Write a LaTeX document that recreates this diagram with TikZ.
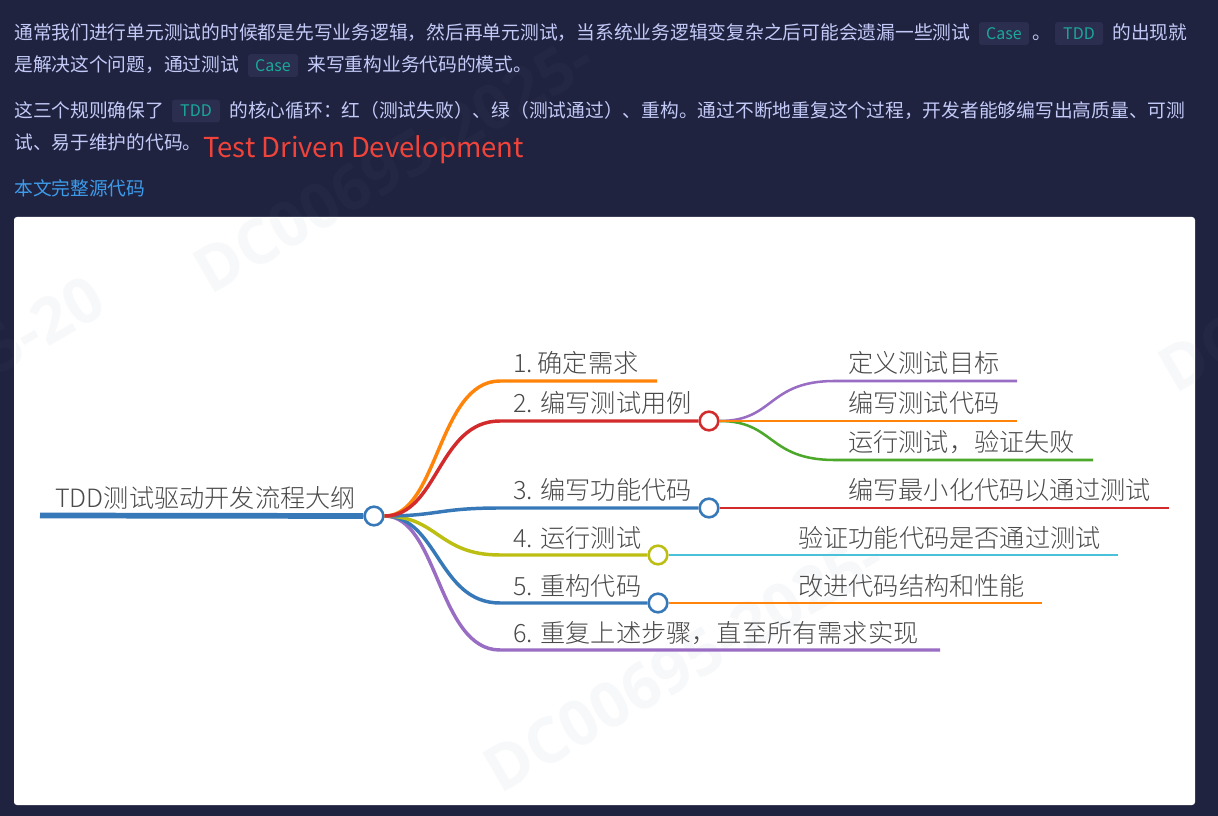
\documentclass[tikz,border=0pt]{standalone}
\usepackage{fontspec}
\setmainfont{Noto Sans CJK SC}
\newfontfamily\wmfont{Open Sans}
\newfontfamily\mapfont{Noto Sans CJK SC Light}
\definecolor{pagebg}{HTML}{1F2340}
\definecolor{bodytxt}{HTML}{C3CAF7}
\definecolor{chipbg}{HTML}{2B2E4E}
\definecolor{chiptxt}{HTML}{1AA79C}
\definecolor{linkc}{HTML}{3D9BEA}
\definecolor{redtxt}{HTML}{F0433A}
\definecolor{wmdark}{HTML}{232744}
\definecolor{wmlight}{HTML}{F7F8FA}
\definecolor{maptxt}{HTML}{4A4A4A}
\definecolor{corange}{HTML}{FF8409}
\definecolor{cred}{HTML}{D32B2B}
\definecolor{cblue}{HTML}{3779B8}
\definecolor{cyellow}{HTML}{BDBE12}
\definecolor{cpurple}{HTML}{9A6DC4}
\definecolor{cgreen}{HTML}{4BA82A}
\definecolor{ccyan}{HTML}{4BC0D9}
\tikzset{
  para/.style={anchor=base west,inner sep=0pt,text=bodytxt,font=\fontsize{14.06pt}{16pt}\selectfont},
  chip/.style={fill=chipbg,rounded corners=2.2pt,inner sep=0pt,text=chiptxt,minimum height=17.2pt,font=\fontsize{12pt}{14pt}\selectfont},
  maplabel/.style={anchor=base west,inner sep=0pt,text=maptxt,font=\mapfont\fontsize{18.9pt}{20pt}\selectfont},
  dot/.style={circle,draw=#1,fill=white,line width=1.9pt,minimum size=14pt,inner sep=0pt},
  link/.style={line width=#1,line cap=butt},
  wm/.style={rotate=30,anchor=base west,inner sep=0pt,font=\wmfont\bfseries\fontsize{47pt}{50pt}\selectfont},
}
\newcommand{\wmtext}[1]{%
  \node[wm,text=#1] (wa#1) at (210,296) {DC00695-2025-};
  \node[wm,text=#1] (wb#1) at (-200,490) {DC00695-20};
  \node[wm,text=#1] (wc#1) at (500,795) {DC00695-2025-};
  \node[wm,text=#1] (wd#1) at (1175,395) {DC00695-2025};
}
\begin{document}
\begin{tikzpicture}[x=0.75pt,y=-0.75pt]
\useasboundingbox (0,0) rectangle (1218,816);
\fill[pagebg] (0,0) rectangle (1218,816);
\begin{scope}
\clip (0,0) rectangle (1218,816);
\wmtext{wmdark}
\end{scope}
% panel
\fill[white,rounded corners=2.2pt] (14,217) rectangle (1195,805);
\begin{scope}
\clip (16,219) rectangle (1193,803);
\wmtext{wmlight}
\end{scope}
% text block
\node[para] (l1a) at (14,40) {通常我们进行单元测试的时候都是先写业务逻辑，然后再单元测试，当系统业务逻辑变复杂之后可能会遗漏一些测试};
\node[chip,minimum width=37.5pt] (c1) at (1004,33.5) {Case};
\node[para] (l1b) at (1032,40) {。};
\node[chip,minimum width=36pt] (c2) at (1079,33.5) {TDD};
\node[para] (l1c) at (1112,40) {的出现就};
\node[para] (l2a) at (14,72) {是解决这个问题，通过测试};
\node[chip,minimum width=37.5pt] (c3) at (273,65.5) {Case};
\node[para] (l2b) at (307,72) {来写重构业务代码的模式。};
\node[para] (l3a) at (14,118) {这三个规则确保了};
\node[chip,minimum width=36pt] (c4) at (196,111) {TDD};
\node[para] (l3b) at (229,118) {的核心循环：红（测试失败）、绿（测试通过）、重构。通过不断地重复这个过程，开发者能够编写出高质量、可测};
\node[para] (l4a) at (14,150) {试、易于维护的代码。};
\node[para,text=redtxt,font=\fontsize{20.6pt}{24pt}\selectfont] (l4b) at (203,157.5) {Test Driven Development};
\node[para,text=linkc] (l5) at (14,196) {本文完整源代码};
% mind map nodes
\coordinate (rootstart) at (40,515.5);
\node[dot=cblue] (root) at (374,516) {};
\node[dot=cred] (n2) at (709,421) {};
\node[dot=cblue] (n3) at (709,508) {};
\node[dot=cyellow] (n4) at (658,555) {};
\node[dot=cblue] (n5) at (658,603) {};
\coordinate (k1) at (500,381); \coordinate (e1) at (657,381);
\coordinate (k2) at (500,421);
\coordinate (k3) at (500,508);
\coordinate (k4) at (500,555);
\coordinate (k5) at (500,603);
\coordinate (k6) at (500,650); \coordinate (e6) at (940,650);
\coordinate (s1) at (835,381); \coordinate (t1) at (1017,381);
\coordinate (t2) at (1017,421);
\coordinate (s3) at (835,460); \coordinate (t3) at (1093,460);
\coordinate (t4) at (1169,508);
\coordinate (t5) at (1118,555);
\coordinate (t6) at (1042,603);
% root line
\draw[link=4.3pt,cblue] (rootstart) -- (root.west);
% main branches
\draw[link=2.6pt,cpurple] (root.east) .. controls (438,516) and (438,650) .. (k6) -- (e6);
\draw[link=2.6pt,cblue] (root.east) .. controls (438,516) and (438,603) .. (k5) -- (n5.west);
\draw[link=2.6pt,cyellow] (root.east) .. controls (438,516) and (438,555) .. (k4) -- (n4.west);
\draw[link=2.6pt,cblue] (root.east) .. controls (438,516) and (438,508) .. (k3) -- (n3.west);
\draw[link=2.6pt,corange] (root.east) .. controls (438,516) and (438,381) .. (k1) -- (e1);
\draw[link=2.6pt,cred] (root.east) .. controls (438,516) and (438,421) .. (k2) -- (n2.west);
% sub branches
\draw[link=1.9pt,cpurple] (n2.east) .. controls (775,421) and (767,381) .. (s1) -- (t1);
\draw[link=1.9pt,cgreen] (n2.east) .. controls (775,421) and (767,460) .. (s3) -- (t3);
\draw[link=1.9pt,corange] (n2.east) -- (t2);
\draw[link=1.9pt,cred] (n3.east) -- (t4);
\draw[link=1.9pt,ccyan] (n4.east) -- (t5);
\draw[link=1.9pt,corange] (n5.east) -- (t6);
% labels
\node[maplabel] (r0) at (55,508) {TDD测试驱动开发流程大纲};
\node[maplabel] (a1) at (513,373) {1.\hspace{-2pt} 确定需求};
\node[maplabel] (a2) at (513,413) {2. 编写测试用例};
\node[maplabel] (a3) at (513,500) {3. 编写功能代码};
\node[maplabel] (a4) at (513,547) {4. 运行测试};
\node[maplabel] (a5) at (513,595) {5. 重构代码};
\node[maplabel] (a6) at (513,642) {6. 重复上述步骤，直至所有需求实现};
\node[maplabel] (b1) at (848,373) {定义测试目标};
\node[maplabel] (b2) at (848,413) {编写测试代码};
\node[maplabel] (b3) at (848,452) {运行测试，验证失败};
\node[maplabel] (b4) at (848,500) {编写最小化代码以通过测试};
\node[maplabel] (b5) at (798,547) {验证功能代码是否通过测试};
\node[maplabel] (b6) at (798,595) {改进代码结构和性能};
\end{tikzpicture}
\end{document}
